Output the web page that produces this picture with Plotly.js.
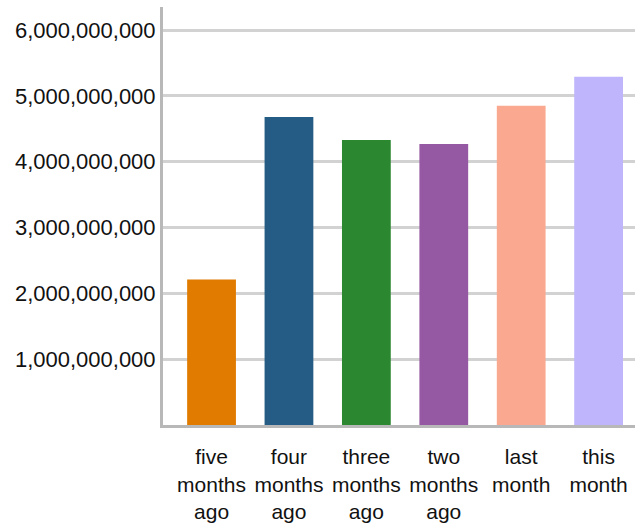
<!DOCTYPE html>
<html>
<head>
<meta charset="utf-8">
<script src="https://cdn.plot.ly/plotly-3.0.1.min.js"></script>
<style>html,body{margin:0;padding:0;background:#fff}#chart{width:635px;height:526px}</style>
</head>
<body>
<div id="chart"></div>
<script>
const categories = ["five<br>months<br>ago", "four<br>months<br>ago", "three<br>months<br>ago", "two<br>months<br>ago", "last<br>month", "this<br>month"];
const values = [2210000000, 4680000000, 4330000000, 4270000000, 4850000000, 5290000000];
const colors = ["#e07b00", "#245c85", "#2b8730", "#9558a2", "#faa990", "#beb5fc"];
const yTicks = [1000000000, 2000000000, 3000000000, 4000000000, 5000000000, 6000000000];
const yTickLabels = ["1,000,000,000", "2,000,000,000", "3,000,000,000", "4,000,000,000", "5,000,000,000", "6,000,000,000"];

const trace = {
  type: "bar",
  x: categories,
  y: values,
  marker: {color: colors, line: {width: 0}},
  hoverinfo: "none"
};

const layout = {
  width: 635, height: 526,
  margin: {l: 163, r: 0, t: 7, b: 101, pad: 0},
  paper_bgcolor: "#fff", plot_bgcolor: "#fff",
  showlegend: false,
  bargap: 0.37,
  font: {family: "Liberation Sans, Arial, sans-serif", size: 22, color: "#111"},
  xaxis: {
    type: "category",
    range: [-0.627, 5.47],
    showline: true, linecolor: "#b8b8b8", linewidth: 3,
    showgrid: false, zeroline: false,
    ticks: "", tickangle: 0,
    ticklabelstandoff: 11,
    tickfont: {size: 21, color: "#111"}
  },
  yaxis: {
    range: [0, 6350000000],
    tickvals: yTicks, ticktext: yTickLabels,
    showline: true, linecolor: "#b8b8b8", linewidth: 3,
    showgrid: true, gridcolor: "#d2d2d2", gridwidth: 3,
    zeroline: false, ticks: "",
    tickfont: {size: 22, color: "#111"}
  }
};

Plotly.newPlot("chart", [trace], layout, {displayModeBar: false, staticPlot: true});
</script>
</body>
</html>
